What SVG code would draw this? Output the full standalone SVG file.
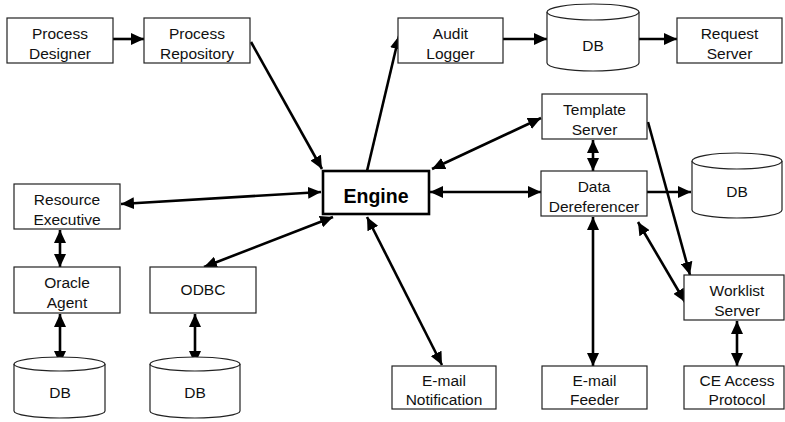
<svg xmlns="http://www.w3.org/2000/svg" width="785" height="422" viewBox="0 0 785 422">
  <style>
    .box { fill: #fff; stroke: #222; stroke-width: 1.2; }
    .core { fill: #fff; stroke: #000; stroke-width: 2.6; }
    .lbl { font-family: "Liberation Sans", Arial, sans-serif; font-size: 15.5px; fill: #111; text-anchor: middle; }
    .big { font-family: "Liberation Sans", Arial, sans-serif; font-size: 19.5px; font-weight: bold; fill: #000; text-anchor: middle; }
    .link { fill: none; stroke: #000; stroke-width: 2.6; }
  </style>
  <defs>
    <marker id="head" viewBox="0 0 13 12" refX="13" refY="6" markerWidth="13" markerHeight="12" markerUnits="userSpaceOnUse" orient="auto">
      <path d="M0,0 L13,6 L0,12 Z" fill="#000"/>
    </marker>
    <marker id="tail" viewBox="0 0 13 12" refX="0" refY="6" markerWidth="13" markerHeight="12" markerUnits="userSpaceOnUse" orient="auto">
      <path d="M13,0 L0,6 L13,12 Z" fill="#000"/>
    </marker>
  </defs>

  <!-- connectors -->
  <g id="connectors">
    <line class="link" x1="113" y1="39" x2="144" y2="39" marker-end="url(#head)"/>
    <line class="link" x1="251" y1="42" x2="322" y2="169" marker-end="url(#head)"/>
    <line class="link" x1="367" y1="171" x2="399" y2="36" marker-end="url(#head)"/>
    <line class="link" x1="503" y1="39" x2="547" y2="39" marker-end="url(#head)"/>
    <line class="link" x1="639" y1="39" x2="677" y2="39" marker-end="url(#head)"/>
    <line class="link" x1="121" y1="204" x2="321" y2="192" marker-start="url(#tail)" marker-end="url(#head)"/>
    <line class="link" x1="432" y1="169" x2="541" y2="118" marker-start="url(#tail)" marker-end="url(#head)"/>
    <line class="link" x1="430" y1="192" x2="541" y2="192" marker-start="url(#tail)" marker-end="url(#head)"/>
    <line class="link" x1="333" y1="217" x2="204" y2="267" marker-start="url(#tail)" marker-end="url(#head)"/>
    <line class="link" x1="367" y1="217" x2="442" y2="365" marker-start="url(#tail)" marker-end="url(#head)"/>
    <line class="link" x1="60" y1="230" x2="60" y2="267" marker-start="url(#tail)" marker-end="url(#head)"/>
    <line class="link" x1="60" y1="314" x2="60" y2="364" marker-start="url(#tail)" marker-end="url(#head)"/>
    <line class="link" x1="195" y1="314" x2="195" y2="364" marker-start="url(#tail)" marker-end="url(#head)"/>
    <line class="link" x1="593" y1="140" x2="593" y2="171" marker-start="url(#tail)" marker-end="url(#head)"/>
    <line class="link" x1="647" y1="192" x2="691" y2="192" marker-end="url(#head)"/>
    <line class="link" x1="593" y1="217" x2="593" y2="366" marker-start="url(#tail)" marker-end="url(#head)"/>
    <line class="link" x1="638" y1="222" x2="685" y2="302" marker-start="url(#tail)" marker-end="url(#head)"/>
    <line class="link" x1="648" y1="122" x2="690" y2="275" marker-end="url(#head)"/>
    <line class="link" x1="737" y1="321" x2="737" y2="366" marker-start="url(#tail)" marker-end="url(#head)"/>
  </g>

  <g id="process-designer">
    <rect class="box" x="7" y="18" width="106" height="45"/>
    <text class="lbl" x="60" y="38.5">Process</text>
    <text class="lbl" x="60" y="58.5">Designer</text>
  </g>
  <g id="process-repository">
    <rect class="box" x="144" y="18" width="106" height="45"/>
    <text class="lbl" x="197" y="38.5">Process</text>
    <text class="lbl" x="197" y="58.5">Repository</text>
  </g>
  <g id="audit-logger">
    <rect class="box" x="398" y="18" width="105" height="45"/>
    <text class="lbl" x="450.5" y="38.5">Audit</text>
    <text class="lbl" x="450.5" y="58.5">Logger</text>
  </g>
  <g id="db-audit">
    <path class="box" d="M547,12 A46,8 0 0 1 639,12 L639,63 A46,8 0 0 1 547,63 Z"/>
    <path class="box" fill="none" d="M547,12 A46,8 0 0 0 639,12"/>
    <text class="lbl" x="593" y="51">DB</text>
  </g>
  <g id="request-server">
    <rect class="box" x="677" y="18" width="105" height="45"/>
    <text class="lbl" x="729.5" y="38.5">Request</text>
    <text class="lbl" x="729.5" y="58.5">Server</text>
  </g>
  <g id="template-server">
    <rect class="box" x="542" y="94" width="105" height="45"/>
    <text class="lbl" x="594.5" y="114.5">Template</text>
    <text class="lbl" x="594.5" y="134.5">Server</text>
  </g>
  <g id="resource-executive">
    <rect class="box" x="14" y="184" width="106" height="45"/>
    <text class="lbl" x="67" y="204.5">Resource</text>
    <text class="lbl" x="67" y="224.5">Executive</text>
  </g>
  <g id="engine">
    <rect class="core" x="323" y="171" width="106" height="43"/>
    <text class="big" x="376" y="202.5">Engine</text>
  </g>
  <g id="data-dereferencer">
    <rect class="box" x="541" y="171" width="106" height="45"/>
    <text class="lbl" x="594" y="191.5">Data</text>
    <text class="lbl" x="594" y="211.5">Dereferencer</text>
  </g>
  <g id="db-data">
    <path class="box" d="M692,161 A45,8 0 0 1 782,161 L782,210 A45,8 0 0 1 692,210 Z"/>
    <path class="box" fill="none" d="M692,161 A45,8 0 0 0 782,161"/>
    <text class="lbl" x="737" y="197">DB</text>
  </g>
  <g id="oracle-agent">
    <rect class="box" x="14" y="267" width="106" height="46"/>
    <text class="lbl" x="67" y="287.5">Oracle</text>
    <text class="lbl" x="67" y="307.5">Agent</text>
  </g>
  <g id="odbc">
    <rect class="box" x="150" y="267" width="106" height="46"/>
    <text class="lbl" x="203" y="295">ODBC</text>
  </g>
  <g id="worklist-server">
    <rect class="box" x="684" y="275" width="100" height="45"/>
    <text class="lbl" x="737" y="295.5">Worklist</text>
    <text class="lbl" x="737" y="315.5">Server</text>
  </g>
  <g id="db-oracle">
    <path class="box" d="M14,364 A45.5,7 0 0 1 105,364 L105,411 A45.5,7 0 0 1 14,411 Z"/>
    <path class="box" fill="none" d="M14,364 A45.5,7 0 0 0 105,364"/>
    <text class="lbl" x="60" y="398">DB</text>
  </g>
  <g id="db-odbc">
    <path class="box" d="M150,364 A45,7 0 0 1 240,364 L240,411 A45,7 0 0 1 150,411 Z"/>
    <path class="box" fill="none" d="M150,364 A45,7 0 0 0 240,364"/>
    <text class="lbl" x="195" y="398">DB</text>
  </g>
  <g id="email-notification">
    <rect class="box" x="392" y="366" width="104" height="43"/>
    <text class="lbl" x="444" y="385.5">E-mail</text>
    <text class="lbl" x="444" y="405">Notification</text>
  </g>
  <g id="email-feeder">
    <rect class="box" x="542" y="366" width="105" height="43"/>
    <text class="lbl" x="594.5" y="385.5">E-mail</text>
    <text class="lbl" x="594.5" y="405">Feeder</text>
  </g>
  <g id="ce-access-protocol">
    <rect class="box" x="684" y="366" width="100" height="43"/>
    <text class="lbl" x="737" y="385.5">CE Access</text>
    <text class="lbl" x="737" y="405">Protocol</text>
  </g>
</svg>
